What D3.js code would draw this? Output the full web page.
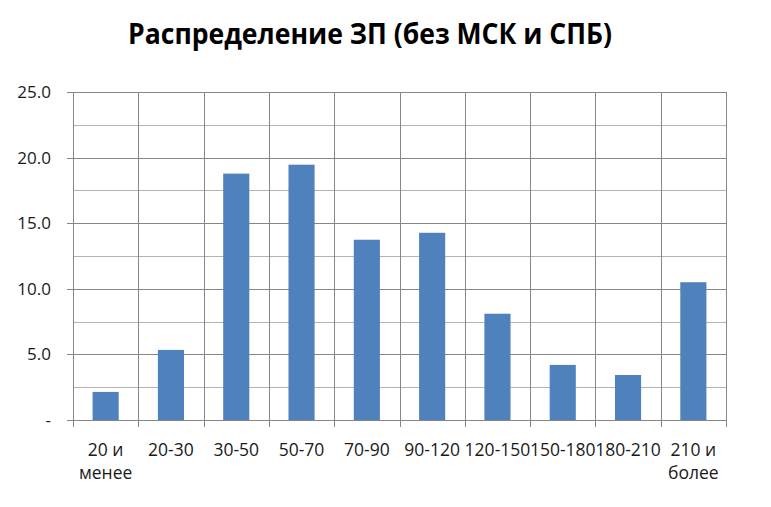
<!DOCTYPE html>
<meta charset="UTF-8">
<style>
  body { margin: 0; background: #fff; }
  text { font-family: "Open Sans", "Noto Sans", sans-serif; }
</style>
<svg width="771" height="507"></svg>
<script src="https://cdn.jsdelivr.net/npm/d3@7"></script>
<script>
var categories = ["20 и|менее", "20-30", "30-50", "50-70", "70-90", "90-120", "120-150", "150-180", "180-210", "210 и|более"];
var values = [2.14, 5.34, 18.78, 19.46, 13.74, 14.27, 8.1, 4.2, 3.43, 10.5];
var yTicks = [0, 5, 10, 15, 20, 25];
var yMinor = [2.5, 7.5, 12.5, 17.5, 22.5];
var title = "Распределение ЗП (без МСК и СПБ)";

var svg = d3.select("svg"),
    plotLeft = 73, plotRight = 726, plotTop = 92, plotBottom = 420;

var x = d3.scaleBand().domain(categories).range([plotLeft, plotRight]).paddingInner(0.6).paddingOuter(0.3);
var cell = d3.scaleBand().domain(categories).range([plotLeft, plotRight]);
var y = d3.scaleLinear().domain([0, 25]).range([plotBottom, plotTop]);

// minor gridlines
svg.append("g").selectAll("line").data(yMinor).join("line")
    .attr("x1", plotLeft).attr("x2", plotRight)
    .attr("y1", d => Math.round(y(d)) + 0.5).attr("y2", d => Math.round(y(d)) + 0.5)
    .attr("stroke", "#b3b3b3").attr("stroke-width", 1);

// major gridlines
svg.append("g").selectAll("line").data(yTicks).join("line")
    .attr("x1", plotLeft - 6).attr("x2", plotRight)
    .attr("y1", d => Math.round(y(d)) + 0.5).attr("y2", d => Math.round(y(d)) + 0.5)
    .attr("stroke", "#868686").attr("stroke-width", 1);

// vertical category lines
var bounds = categories.map(c => cell(c)).concat([plotRight]);
svg.append("g").selectAll("line").data(bounds).join("line")
    .attr("x1", d => Math.round(d) + 0.5).attr("x2", d => Math.round(d) + 0.5)
    .attr("y1", plotTop).attr("y2", plotBottom + 7)
    .attr("stroke", "#868686").attr("stroke-width", 1);

// bars
svg.append("g").selectAll("rect").data(values).join("rect")
    .attr("x", (d, i) => x(categories[i]))
    .attr("width", x.bandwidth())
    .attr("y", d => y(d))
    .attr("height", d => y(0) - y(d))
    .attr("fill", "#4f81bd");

// y labels
svg.append("g").selectAll("text").data(yTicks).join("text")
    .attr("x", 51).attr("y", d => y(d) + 6)
    .attr("text-anchor", "end")
    .attr("font-size", 17).attr("fill", "#1a1a1a")
    .text(d => d === 0 ? "-" : d.toFixed(1));

// x labels
var xl = svg.append("g").selectAll("text").data(categories).join("text")
    .attr("x", d => cell(d) + cell.bandwidth() / 2)
    .attr("y", 456)
    .attr("text-anchor", "middle")
    .attr("font-size", 17.5).attr("fill", "#1a1a1a");
xl.each(function(d) {
  var parts = d.split("|");
  var t = d3.select(this);
  parts.forEach((p, i) => {
    t.append("tspan").attr("x", cell(d) + cell.bandwidth() / 2).attr("dy", i ? 23 : 0).text(p);
  });
});

// title
svg.append("text")
    .attr("x", 370).attr("y", 44)
    .attr("text-anchor", "middle")
    .attr("font-size", 29).attr("font-weight", "bold").attr("fill", "#000")
    .attr("textLength", 484).attr("lengthAdjust", "spacingAndGlyphs")
    .text(title);
</script>
